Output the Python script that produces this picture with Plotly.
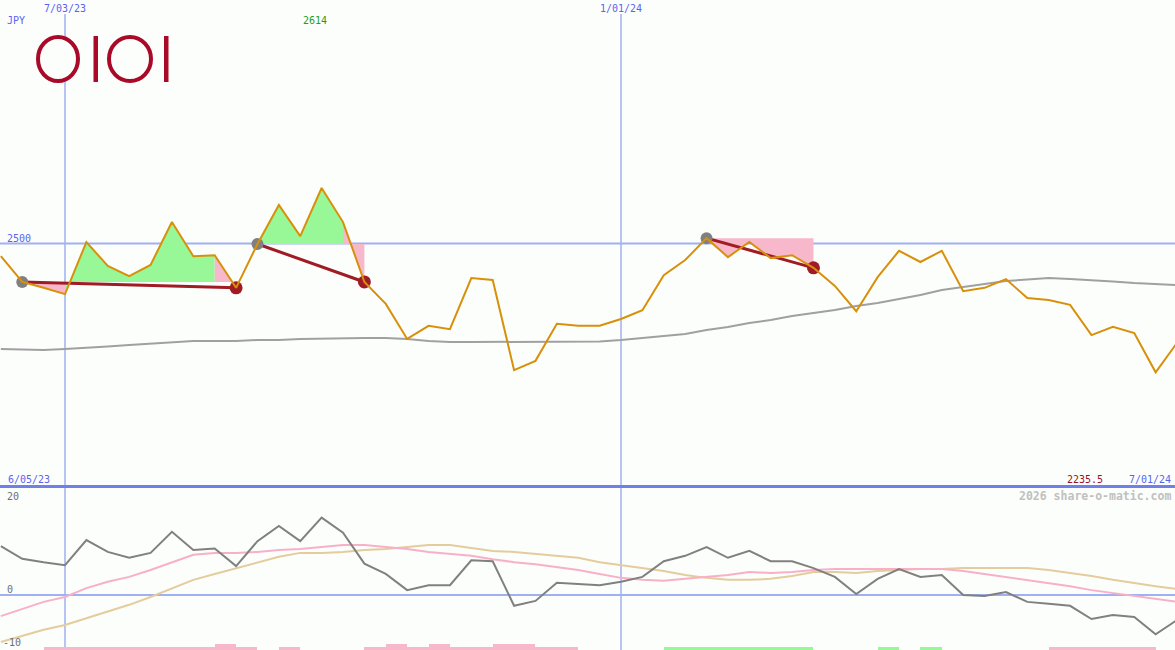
import pandas as pd
import plotly.graph_objects as go

# ---------------- data ----------------
start_date = "2023-06-12"
dates = pd.date_range(start_date, periods=56, freq="7D")

price = [2474, 2421, 2409, 2396, 2503, 2454, 2433, 2456, 2544, 2474,
         2476, 2409, 2499, 2579, 2515, 2614, 2544, 2421, 2376, 2304,
         2331, 2324, 2429, 2425, 2240, 2259, 2335, 2331, 2331, 2345,
         2363, 2435, 2466, 2511, 2472, 2503, 2470, 2476, 2450, 2413,
         2361, 2431, 2485, 2462, 2485, 2402, 2409, 2427, 2388, 2384,
         2374, 2312, 2329, 2316, 2235.5, 2296]

ma_long = [2283.4, 2282.3, 2281.3, 2283.4, 2285.4, 2288.5, 2291.6, 2294.7, 2297.7, 2299.8,
           2299.8, 2299.8, 2301.8, 2301.8, 2303.9, 2304.9, 2305.9, 2305.9, 2305.9, 2303.9,
           2299.8, 2297.7, 2297.7, 2297.7, 2297.7, 2297.7, 2297.7, 2297.7, 2298.7, 2301.8,
           2305.9, 2310.1, 2314.2, 2322.4, 2328.5, 2336.7, 2342.9, 2351.1, 2357.3, 2363.4,
           2371.7, 2377.8, 2386.0, 2394.2, 2404.5, 2410.7, 2416.8, 2423.0, 2426.1, 2429.2,
           2427.1, 2425.0, 2421.9, 2418.9, 2416.8, 2414.8]

osc = [10.0, 7.4, 6.7, 6.1, 11.2, 8.8, 7.6, 8.6, 12.9, 9.2,
       9.5, 5.9, 11.0, 14.1, 11.0, 15.8, 12.7, 6.4, 4.3, 1.0,
       2.0, 2.0, 7.1, 6.9, -2.2, -1.2, 2.5, 2.3, 2.0, 2.7,
       3.7, 6.9, 8.0, 9.8, 7.6, 9.0, 6.9, 6.9, 5.5, 3.7,
       0.2, 3.3, 5.3, 3.7, 4.1, 0.0, -0.2, 0.6, -1.4, -1.8,
       -2.2, -4.9, -4.1, -4.5, -8.0, -5.1]

osc_fast = [-4.3, -2.9, -1.4, -0.4, 1.4, 2.7, 3.7, 5.1, 6.7, 8.2,
            8.6, 8.6, 8.8, 9.2, 9.4, 9.8, 10.2, 10.2, 9.8, 9.4,
            8.8, 8.4, 8.0, 7.3, 6.7, 6.3, 5.7, 5.1, 4.3, 3.5,
            3.1, 2.9, 3.3, 3.7, 4.1, 4.7, 4.5, 4.7, 5.1, 5.3,
            5.3, 5.3, 5.3, 5.3, 5.3, 4.9, 4.3, 3.7, 3.1, 2.4,
            1.8, 1.0, 0.4, -0.2, -0.8, -1.4]

osc_slow = [-9.6, -8.4, -7.1, -6.1, -4.7, -3.3, -2.0, -0.4, 1.4, 3.1,
            4.3, 5.5, 6.7, 7.8, 8.6, 8.6, 8.8, 9.2, 9.4, 9.8,
            10.2, 10.2, 9.6, 9.0, 8.8, 8.4, 8.0, 7.6, 6.7, 6.1,
            5.5, 4.9, 4.1, 3.5, 3.1, 3.1, 3.3, 3.9, 4.7, 4.7,
            4.5, 4.9, 5.1, 5.3, 5.3, 5.5, 5.5, 5.5, 5.5, 5.1,
            4.5, 3.9, 3.1, 2.4, 1.8, 1.2]

# weekly signal strip: -2 strong sell, -1 sell, 0 none, 1 buy
signal = [0, 0, -1, -1, -1, -1, -1, -1, -1, -1,
          -2, -1, 0, -1, 0, 0, 0, -1, -2, -1,
          -2, -1, -1, -2, -2, -1, -1, 0, 0, 0,
          0, 1, 1, 1, 1, 1, 1, 1, 0, 0,
          0, 1, 0, 1, 0, 0, 0, 0, 0, -1,
          -1, -1, -1, -1, 0]

entry_idx = [1, 12, 33]
exit_idx = [11, 17, 38]

grid_dates = ["2023-07-03", "2024-01-01"]
grid_labels = ["7/03/23", "1/01/24"]
price_level = 2500
currency = "JPY"
first_label = "6/05/23"
last_label = "7/01/24"
high_label = "2614"
low_label = "2235.5"
watermark = "2026 share-o-matic.com"
osc_ticks = [20, 0, -10]

# ---------------- styling ----------------
W, H = 1175, 650
BG = "#fcfefc"
BLUE_TXT = "#5a64f0"
GRID = "#a0b0f0"
DIV = "#7080e8"
GREEN_F = "#98f898"
PINK_F = "#f8b8cc"
RED = "#a01c24"
FONT = "DejaVu Sans Mono"

px_per_day = 21.385 / 7.0
x_start = pd.Timestamp(start_date) - pd.Timedelta(days=0.85 / px_per_day)
x_end = x_start + pd.Timedelta(days=W / px_per_day)

y_main = [2000, 3000]
y_osc = [-11.22, 21.84]
main_bottom_px = 487
osc_top_px = 488

fig = go.Figure()

# ---- trade fills ----
gx, gy, pxs, pys = [], [], [], []
for e, x_ in zip(entry_idx, exit_idx):
    base = price[e]
    for k in range(e, x_):
        xs = [dates[k], dates[k], dates[k + 1], dates[k + 1], None]
        ys = [base, price[k], price[k + 1], base, None]
        if price[k + 1] > base:
            gx += xs; gy += ys
        else:
            pxs += xs; pys += ys
fig.add_trace(go.Scatter(x=gx, y=gy, mode="lines", fill="toself", fillcolor=GREEN_F,
                         line=dict(width=0, color=GREEN_F), hoverinfo="skip", xaxis="x", yaxis="y"))
fig.add_trace(go.Scatter(x=pxs, y=pys, mode="lines", fill="toself", fillcolor=PINK_F,
                         line=dict(width=0, color=PINK_F), hoverinfo="skip", xaxis="x", yaxis="y"))

# ---- long MA ----
fig.add_trace(go.Scatter(x=dates, y=ma_long, mode="lines", line=dict(color="#a0a0a0", width=2),
                         xaxis="x", yaxis="y"))

# ---- trade lines ----
tx, ty = [], []
for e, x_ in zip(entry_idx, exit_idx):
    tx += [dates[e], dates[x_], None]
    ty += [price[e], price[x_], None]
fig.add_trace(go.Scatter(x=tx, y=ty, mode="lines", line=dict(color=RED, width=3), xaxis="x", yaxis="y"))

fig.add_trace(go.Scatter(x=[dates[i] for i in entry_idx], y=[price[i] for i in entry_idx],
                         mode="markers", marker=dict(size=12, color="#808080"), xaxis="x", yaxis="y"))
fig.add_trace(go.Scatter(x=[dates[i] for i in exit_idx], y=[price[i] for i in exit_idx],
                         mode="markers", marker=dict(size=13, color=RED), xaxis="x", yaxis="y"))

# ---- price ----
fig.add_trace(go.Scatter(x=dates, y=price, mode="lines", line=dict(color="#d8900a", width=2),
                         xaxis="x", yaxis="y"))

# ---- oscillator panel ----
fig.add_trace(go.Scatter(x=dates, y=osc_slow, mode="lines", line=dict(color="#e4cc9c", width=2),
                         xaxis="x2", yaxis="y2"))
fig.add_trace(go.Scatter(x=dates, y=osc_fast, mode="lines", line=dict(color="#f8b0c8", width=2),
                         xaxis="x2", yaxis="y2"))
fig.add_trace(go.Scatter(x=dates, y=osc, mode="lines", line=dict(color="#808080", width=2),
                         xaxis="x2", yaxis="y2"))

unit_h = 3 * (y_osc[1] - y_osc[0]) / (H - osc_top_px)
bar_x = [dates[i] for i, s in enumerate(signal) if s != 0]
bar_h = [abs(s) * unit_h for s in signal if s != 0]
bar_c = [GREEN_F if s > 0 else PINK_F for s in signal if s != 0]
fig.add_trace(go.Bar(x=bar_x, y=bar_h, base=y_osc[0], offset=0, width=7 * 86400000,
                     marker=dict(color=bar_c, line=dict(width=0)), xaxis="x2", yaxis="y2"))

# ---------------- shapes ----------------
def py(p):
    return 1 - p / H

def pxp(p):
    return p / W

shapes = []
for d in grid_dates:
    shapes.append(dict(type="line", xref="x", yref="paper", x0=d, x1=d, y0=0, y1=py(14),
                       line=dict(color=GRID, width=1.5), layer="below"))
shapes.append(dict(type="line", xref="paper", yref="y", x0=0, x1=1, y0=price_level, y1=price_level,
                   line=dict(color=GRID, width=2), layer="below"))
shapes.append(dict(type="line", xref="paper", yref="y2", x0=0, x1=1, y0=0, y1=0,
                   line=dict(color=GRID, width=2), layer="below"))
shapes.append(dict(type="line", xref="paper", yref="paper", x0=0, x1=1, y0=py(486.5), y1=py(486.5),
                   line=dict(color=DIV, width=3), layer="above"))

# logo
LOGO = "#a80a28"
for (l, r) in [(38, 78), (109, 151)]:
    shapes.append(dict(type="circle", xref="paper", yref="paper", x0=pxp(l), x1=pxp(r),
                       y0=py(81), y1=py(37), line=dict(color=LOGO, width=4), fillcolor=BG, layer="above"))
for (l, r) in [(93.5, 98), (164, 168.5)]:
    shapes.append(dict(type="rect", xref="paper", yref="paper", x0=pxp(l), x1=pxp(r),
                       y0=py(82), y1=py(36), line=dict(width=0), fillcolor=LOGO, layer="above"))

# ---------------- annotations ----------------
def ann(text, x, y, color, xanchor="left", size=10, xref="paper", bold=False):
    return dict(text=("<b>%s</b>" % text) if bold else text, x=x if xref != "paper" else pxp(x),
                y=py(y), xref=xref, yref="paper", xanchor=xanchor, yanchor="middle",
                showarrow=False, font=dict(family=FONT, size=size, color=color))

annots = [
    ann(currency, 5, 20, BLUE_TXT),
    ann(high_label, 315, 21, "#20a020", xanchor="center"),
    ann(str(price_level), 5, 238, BLUE_TXT),
    ann(first_label, 6, 479, BLUE_TXT),
    ann(low_label, 1085, 479, "#a01020", xanchor="center"),
    ann(last_label, 1173, 479, BLUE_TXT, xanchor="right"),
    ann(watermark, 1173, 496, "#c0c0c0", xanchor="right", size=11.5, bold=True),
    ann(str(osc_ticks[0]), 5, 496, "#707070"),
    ann(str(osc_ticks[1]), 5, 589, "#707070"),
    ann(str(osc_ticks[2]), 1, 642, "#707070"),
]
for d, lab in zip(grid_dates, grid_labels):
    annots.append(dict(text=lab, x=d, y=py(9), xref="x", yref="paper", xanchor="center",
                       yanchor="middle", showarrow=False, font=dict(family=FONT, size=10, color=BLUE_TXT)))

fig.update_layout(
    width=W, height=H,
    margin=dict(l=0, r=0, t=0, b=0),
    paper_bgcolor=BG, plot_bgcolor=BG,
    showlegend=False,
    xaxis=dict(type="date", range=[x_start, x_end], visible=False, anchor="y"),
    xaxis2=dict(type="date", range=[x_start, x_end], visible=False, anchor="y2", matches="x"),
    yaxis=dict(range=y_main, domain=[(H - main_bottom_px) / H, 1], visible=False, anchor="x"),
    yaxis2=dict(range=y_osc, domain=[0, (H - osc_top_px) / H], visible=False, anchor="x2"),
    shapes=shapes,
    annotations=annots,
    bargap=0,
)

fig.write_html("out.html", config={"displayModeBar": False},
               post_script="document.body.style.margin='0';document.body.style.padding='0';"
                           "document.documentElement.style.margin='0';"
                           "document.body.style.background='" + BG + "';")
